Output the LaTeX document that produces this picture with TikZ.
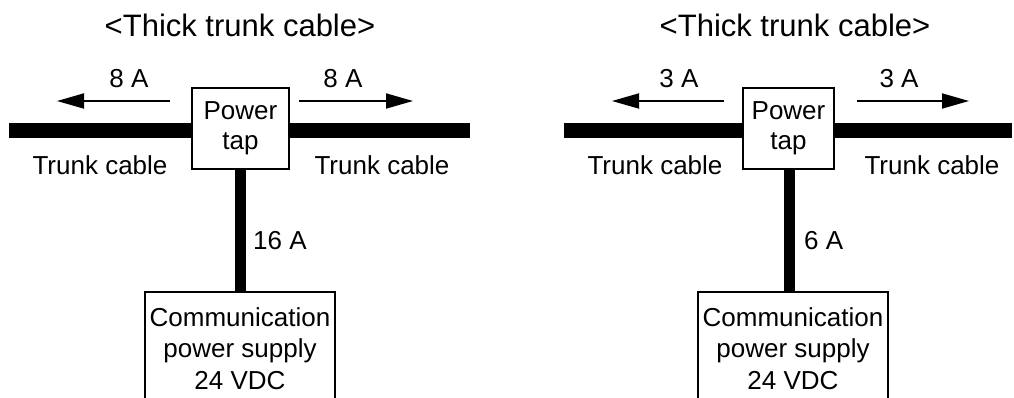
\documentclass[tikz,border=0pt]{standalone}
\usepackage{fontspec}
\setmainfont{Liberation Sans}
\usetikzlibrary{arrows.meta}
\begin{document}
\begin{tikzpicture}[x=1pt,y=-1pt,
  lbl/.style={font=\fontsize{26}{31.5}\selectfont, inner sep=0pt, anchor=base},
  ttl/.style={font=\fontsize{31}{37}\selectfont, inner sep=0pt, anchor=base},
  tapbox/.style={draw, line width=1.6pt, fill=white, minimum height=81pt, inner sep=0pt, align=center, font=\fontsize{26}{30}\selectfont},
  cable/.style={line width=14.5pt},
  feed/.style={line width=10.5pt},
  flow/.style={line width=1.8pt, -{Triangle[length=27pt,width=15pt]}},
  openbox/.style={line width=1.6pt},
]
\useasboundingbox (0,0) rectangle (1014,398);

% ---------- left ----------
\node[ttl] (titleL) at (240,37) {<Thick trunk cable>};
\coordinate (cLL) at (9,130.5);
\coordinate (cLR) at (470,130.5);
\draw[cable] (cLL) -- (cLR);
\node[tapbox, minimum width=97pt] (tapL) at (240.5,128.5) {Power\\tap};
\coordinate (sLtop) at (240.5,292);
\draw[openbox] (145,399) -- (145,292) -- (335,292) -- (335,399);
\draw[feed] (tapL.south) -- (sLtop);
\node[lbl, align=center] (supL) at (240,389) {Communication\\power supply\\24 VDC};
\coordinate (aL1) at (170,101); \coordinate (aL2) at (57,101);
\coordinate (aL3) at (299,101); \coordinate (aL4) at (413,101);
\draw[flow] (aL1) -- (aL2);
\draw[flow] (aL3) -- (aL4);
\node[lbl] (iL1) at (129,88) {8 A};
\node[lbl] (iL2) at (343,88) {8 A};
\node[lbl] (tL1) at (100,175) {Trunk cable};
\node[lbl] (tL2) at (382,175) {Trunk cable};
\node[lbl, anchor=base west] (iL3) at (253,249.3) {16 A};

% ---------- right ----------
\node[ttl] (titleR) at (795,37) {<Thick trunk cable>};
\coordinate (cRL) at (564,130.5);
\coordinate (cRR) at (1012,130.5);
\draw[cable] (cRL) -- (cRR);
\node[tapbox, minimum width=91pt] (tapR) at (788.5,128.5) {Power\\tap};
\coordinate (sRtop) at (789.5,292);
\draw[openbox] (698,399) -- (698,292) -- (888,292) -- (888,399);
\draw[feed] (tapR.south -| sRtop) -- (sRtop);
\node[lbl, align=center] (supR) at (793,389) {Communication\\power supply\\24 VDC};
\coordinate (aR1) at (724,101); \coordinate (aR2) at (612,101);
\coordinate (aR3) at (857,101); \coordinate (aR4) at (969,101);
\draw[flow] (aR1) -- (aR2);
\draw[flow] (aR3) -- (aR4);
\node[lbl] (iR1) at (679,88) {3 A};
\node[lbl] (iR2) at (899,88) {3 A};
\node[lbl] (tR1) at (655,175) {Trunk cable};
\node[lbl] (tR2) at (932,175) {Trunk cable};
\node[lbl, anchor=base west] (iR3) at (804,249.3) {6 A};
\end{tikzpicture}
\end{document}
